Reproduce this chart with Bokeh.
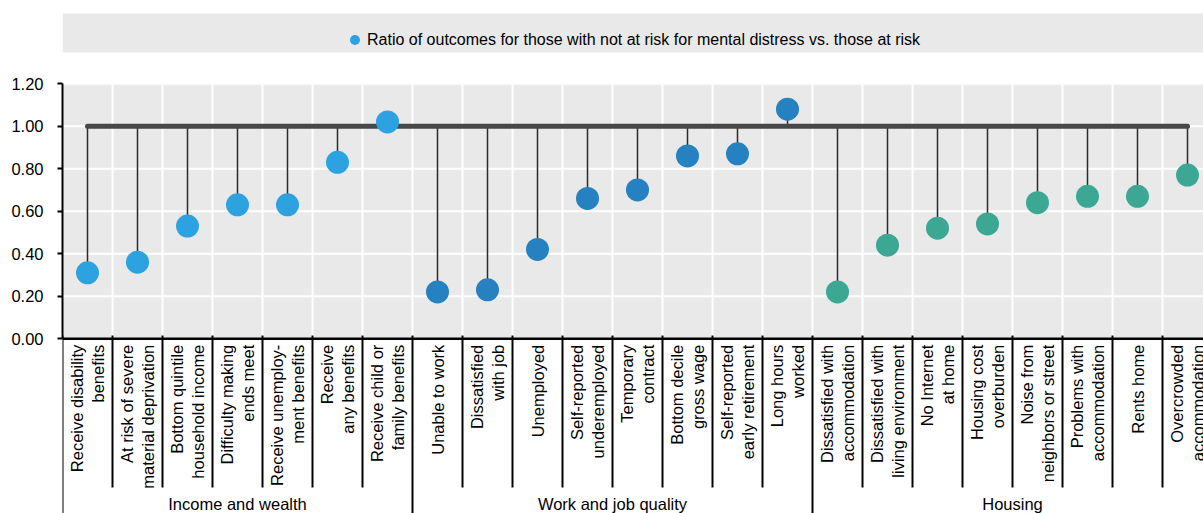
import math
from bokeh.plotting import figure
from bokeh.models import (ColumnDataSource, Range1d, FixedTicker, NumeralTickFormatter,
                          Legend, LegendItem, BoxAnnotation, Span)
from bokeh.embed import file_html
from bokeh.resources import INLINE
from bokeh.core.properties import value

# ---------------- data ----------------
categories = [
    "Receive disability\nbenefits",
    "At risk of severe\nmaterial deprivation",
    "Bottom quintile\nhousehold income",
    "Difficulty making\nends meet",
    "Receive unemploy-\nment benefits",
    "Receive\nany benefits",
    "Receive child or\nfamily benefits",
    "Unable to work",
    "Dissatisfied\nwith job",
    "Unemployed",
    "Self-reported\nunderemployed",
    "Temporary\ncontract",
    "Bottom decile\ngross wage",
    "Self-reported\nearly retirement",
    "Long hours\nworked",
    "Dissatisfied with\naccommodation",
    "Dissatisfied with\nliving environment",
    "No Internet\nat home",
    "Housing cost\noverburden",
    "Noise from\nneighbors or street",
    "Problems with\naccommodation",
    "Rents home",
    "Overcrowded\naccommodation",
]
values = [0.31, 0.36, 0.53, 0.63, 0.63, 0.83, 1.02,
          0.22, 0.23, 0.42, 0.66, 0.70, 0.86, 0.87, 1.08,
          0.22, 0.44, 0.52, 0.54, 0.64, 0.67, 0.67, 0.77]
group_names = ["Income and wealth", "Work and job quality", "Housing"]
group_sizes = [7, 8, 8]
group_colors = ["#2CA3E0", "#2581C0", "#3CA894"]
y_ticks = [0.0, 0.2, 0.4, 0.6, 0.8, 1.0, 1.2]
baseline = 1.0
legend_label = "Ratio of outcomes for those with not at risk for mental distress vs. those at risk"

# ---------------- layout constants ----------------
FONT = "Liberation Sans"
W, H = 1203, 513
LEFT = 62
PX_PER_X = 50.0
PX_PER_Y = 212.5
ZERO_PAGE_Y = 338.2
PAGE_TOP, PAGE_BOTTOM = 0, H
y_top = (ZERO_PAGE_Y - PAGE_TOP) / PX_PER_Y
y_bot = (ZERO_PAGE_Y - PAGE_BOTTOM) / PX_PER_Y
x_start = -0.5
x_end = x_start + (W - LEFT) / PX_PER_X

n = len(categories)
idx = list(range(n))
cat_colors = []
for g, size in enumerate(group_sizes):
    cat_colors += [group_colors[g]] * size

p = figure(width=W, height=H, x_range=Range1d(x_start, x_end), y_range=Range1d(y_bot, y_top),
           toolbar_location=None, output_backend="svg", x_axis_location=None,
           min_border_left=LEFT, min_border_right=0, min_border_top=0, min_border_bottom=0,
           outline_line_color=None, background_fill_color="white", border_fill_color="white")
p.grid.visible = False

# legend band
band = BoxAnnotation(bottom=(ZERO_PAGE_Y - 52) / PX_PER_Y, top=(ZERO_PAGE_Y - 13) / PX_PER_Y,
                     fill_color="#E9E9E9", fill_alpha=1, line_color=None, level="underlay")
p.add_layout(band)

# plot area background
p.quad(left=[x_start], right=[x_end + 1], bottom=[y_ticks[0]], top=[y_ticks[-1]],
       fill_color="#E9E9E9", line_color=None)

# gridlines
p.segment(x0=[x_start] * (len(y_ticks) - 1), x1=[x_end + 1] * (len(y_ticks) - 1),
          y0=y_ticks[1:], y1=y_ticks[1:], line_color="white", line_width=2)
bounds = [i + 0.5 for i in range(n)]
p.segment(x0=bounds, x1=bounds, y0=[y_ticks[0]] * n, y1=[y_ticks[-1]] * n,
          line_color="white", line_width=2)

src = ColumnDataSource(dict(x=idx, y=values, base=[baseline] * n, color=cat_colors))

# stems
p.segment(x0="x", y0="base", x1="x", y1="y", source=src, line_color="#2b2b2b", line_width=1.5)
# reference line at 1.00
p.line(x=[idx[0], idx[-1]], y=[baseline, baseline], line_color="#474747", line_width=5,
       line_cap="round")
# markers
r = p.scatter(x="x", y="y", source=src, size=23, fill_color="color", line_color=None)

# x axis line at 0
p.add_layout(Span(location=0, dimension="width", line_color="black", line_width=2.5))

# separators below the axis
sep_x, sep_y0, sep_y1 = [], [], []
starts = [sum(group_sizes[:g]) for g in range(len(group_sizes))] + [n]
for k in range(n + 1):
    sep_x.append(k - 0.5)
    sep_y0.append(0.015)
    sep_y1.append(y_bot - 0.1 if k in starts else (ZERO_PAGE_Y - 487) / PX_PER_Y)
p.segment(x0=sep_x, x1=sep_x, y0=sep_y0, y1=sep_y1, line_color="black", line_width=2)

# category labels (rotated)
l1, l2, x1o, x2o = [], [], [], []
for c in categories:
    parts = c.split("\n")
    if len(parts) == 2:
        l1.append(parts[0]); l2.append(parts[1]); x1o.append(-11); x2o.append(10)
    else:
        l1.append(parts[0]); l2.append(""); x1o.append(0); x2o.append(0)
lab = ColumnDataSource(dict(x=idx, y=[0.0] * n, l1=l1, l2=l2, x1o=x1o, x2o=x2o))
for col, off in (("l1", "x1o"), ("l2", "x2o")):
    p.text(x="x", y="y", text=col, source=lab, angle=math.pi / 2, x_offset=off, y_offset=6,
           text_align="right", text_baseline="middle", text_font=value(FONT),
           text_font_size="16.5px", text_color="black")

# group labels
gx = [(starts[g] + starts[g + 1] - 1) / 2 for g in range(len(group_names))]
p.text(x=gx, y=[(ZERO_PAGE_Y - 503) / PX_PER_Y] * len(gx), text=group_names,
       text_align="center", text_baseline="middle", text_font=value(FONT),
       text_font_size="16.5px", text_color="black")

# y axis
ax = p.yaxis[0]
ax.ticker = FixedTicker(ticks=y_ticks)
ax.formatter = NumeralTickFormatter(format="0.00")
ax.bounds = (y_ticks[0], y_ticks[-1])
ax.axis_line_color = "black"
ax.axis_line_width = 2
ax.major_tick_line_color = "black"
ax.major_tick_line_width = 2
ax.major_tick_out = 5
ax.major_tick_in = 0
ax.minor_tick_line_color = None
ax.major_label_standoff = 14
ax.major_label_text_font = FONT
ax.major_label_text_font_size = "16.5px"
ax.major_label_text_color = "black"

# legend
legend = Legend(items=[LegendItem(label=legend_label, renderers=[r], index=0)],
                location=(280, 461), orientation="horizontal",
                background_fill_color="#E9E9E9", background_fill_alpha=1,
                border_line_color=None, padding=5, margin=0, spacing=0,
                glyph_width=25, glyph_height=25, label_standoff=0,
                label_text_font=FONT, label_text_font_size="16px", label_text_color="black")
p.add_layout(legend)

open("out.html", "w").write(file_html(p, INLINE))
